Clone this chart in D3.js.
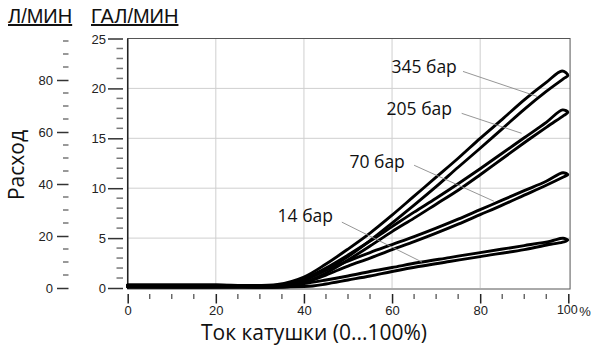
<!DOCTYPE html>
<html>
<head>
<meta charset="utf-8">
<script src="https://cdn.jsdelivr.net/npm/d3@7"></script>
<style>
  body { margin: 0; background: #fff; }
  svg { display: block; }
</style>
</head>
<body>
<svg id="chart"></svg>
<script>
// flow (gal/min) against coil current (%), each loop = rising branch then falling branch
const loop345Up = [[0,0.3],[20,0.3],[34,0.35],[40,1.1],[45,2.4],[50,3.9],[55,5.5],[60,7.3],[65,9.2],[70,11.1],[75,13.0],[80,15.0],[85,16.9],[90,18.85],[95,20.6],[98.6,21.75]];
const loop345Down = [[99.9,21.3],[99,21.0],[95,19.7],[90,17.9],[85,15.95],[80,14.0],[75,12.1],[70,10.15],[65,8.3],[60,6.5],[55,4.75],[50,3.15],[45,1.8],[40,0.7],[38,0.3],[20,0.12],[0,0.12]];
const loop205Up = [[0,0.28],[20,0.28],[36,0.3],[40,0.9],[45,2.0],[50,3.3],[55,4.7],[60,6.15],[65,7.6],[70,9.0],[75,10.45],[80,11.95],[85,13.5],[90,15.05],[95,16.6],[98.7,17.85]];
const loop205Down = [[99.9,17.6],[99,17.3],[95,16.1],[90,14.55],[85,12.95],[80,11.35],[75,9.8],[70,8.4],[65,7.0],[60,5.65],[55,4.2],[50,2.8],[45,1.5],[40,0.5],[38,0.2],[20,0.1],[0,0.1]];
const loop70Up = [[0,0.28],[20,0.28],[36,0.3],[40,0.9],[45,1.8],[50,2.7],[55,3.55],[60,4.35],[65,5.15],[70,6.0],[75,6.9],[80,7.85],[85,8.8],[90,9.75],[95,10.7],[98.8,11.55]];
const loop70Down = [[99.9,11.35],[99,11.15],[95,10.3],[90,9.3],[85,8.3],[80,7.35],[75,6.4],[70,5.5],[65,4.65],[60,3.85],[55,3.0],[50,2.2],[45,1.3],[40,0.5],[38,0.2],[20,0.1],[0,0.1]];
const loop14Up = [[0,0.25],[20,0.25],[35,0.25],[40,0.45],[45,0.8],[50,1.2],[55,1.65],[60,2.05],[66,2.55],[73,3.05],[80,3.55],[90,4.25],[96,4.7],[98.8,4.98]];
const loop14Down = [[99.9,4.8],[99,4.62],[96,4.38],[90,3.85],[80,3.15],[73,2.65],[66,2.15],[60,1.65],[55,1.2],[50,0.8],[45,0.4],[42,0.2],[35,0.12],[0,0.12]];

const pressureLabels = ["345 бар", "205 бар", "70 бар", "14 бар"];
const xTicks = [0, 20, 40, 60, 80, 100];
const galTicks = [0, 5, 10, 15, 20, 25];
const litreTicks = [0, 20, 40, 60, 80];

const svgWidth = 593, svgHeight = 347;

const svg = d3.select("#chart")
  .attr("width", svgWidth)
  .attr("height", svgHeight);

const x = d3.scaleLinear().domain([0, 100]).range([127.7, 568.3]);
const y = d3.scaleLinear().domain([0, 25]).range([288, 38.5]);
const yL = d3.scaleLinear().domain([0, 80]).range([288, 80]);

// grid
const grid = svg.append("g");
grid.selectAll(".vg").data([20, 40, 60, 80]).enter().append("line")
  .attr("x1", d => x(d)).attr("x2", d => x(d))
  .attr("y1", y(25)).attr("y2", y(0))
  .attr("stroke", "#cfcfcf").attr("stroke-width", 1);
grid.selectAll(".hg").data([5, 10, 15, 20]).enter().append("line")
  .attr("x1", x(0)).attr("x2", x(100.4))
  .attr("y1", d => y(d)).attr("y2", d => y(d))
  .attr("stroke", "#cfcfcf").attr("stroke-width", 1);

// frame
svg.append("rect")
  .attr("x", x(0)).attr("y", y(25))
  .attr("width", x(100.4) - x(0)).attr("height", y(0) - y(25) + 1)
  .attr("fill", "none").attr("stroke", "#555").attr("stroke-width", 1);
svg.append("line")
  .attr("x1", x(0)).attr("x2", x(0)).attr("y1", y(25)).attr("y2", y(0) + 1)
  .attr("stroke", "#222").attr("stroke-width", 1.5);

// gallon axis
const galAxis = svg.append("g").attr("transform", "translate(123,0)");
galAxis.call(d3.axisLeft(y).tickValues(galTicks).tickSize(15).tickPadding(2).tickSizeOuter(0))
  .call(g => g.select(".domain").remove());
galAxis.selectAll(".tick line").attr("stroke", "#333").attr("stroke-width", 1.5);
galAxis.selectAll(".tick text")
  .attr("font-family", "Liberation Sans, Arial, sans-serif")
  .attr("font-size", 13).attr("fill", "#222").attr("dy", "0.35em");
galAxis.selectAll(".minor").data(d3.range(1, 25).filter(d => d % 5 != 0)).enter().append("line")
  .attr("x1", -6.5).attr("x2", 0)
  .attr("y1", d => y(d)).attr("y2", d => y(d))
  .attr("stroke", "#777").attr("stroke-width", 1.5);

// litre axis
const litreAxis = svg.append("g").attr("transform", "translate(68.5,0)");
litreAxis.call(d3.axisLeft(yL).tickValues(litreTicks).tickSize(11.5).tickPadding(4).tickSizeOuter(0))
  .call(g => g.select(".domain").remove());
litreAxis.selectAll(".tick line").attr("stroke", "#333").attr("stroke-width", 1.5);
litreAxis.selectAll(".tick text")
  .attr("font-family", "Liberation Sans, Arial, sans-serif")
  .attr("font-size", 13).attr("fill", "#222").attr("dy", "0.35em");
litreAxis.selectAll(".minor").data(d3.range(5, 100, 5).filter(d => d % 20 != 0)).enter().append("line")
  .attr("x1", -5.5).attr("x2", 0)
  .attr("y1", d => yL(d)).attr("y2", d => yL(d))
  .attr("stroke", "#777").attr("stroke-width", 1.5);

// bottom axis
const xAxis = svg.append("g").attr("transform", "translate(0,294)");
xAxis.call(d3.axisBottom(x).tickValues(xTicks).tickSize(9.5).tickPadding(2).tickSizeOuter(0)
    .tickFormat(d => d))
  .call(g => g.select(".domain").remove());
xAxis.selectAll(".tick line").attr("stroke", "#222").attr("stroke-width", 1.5);
xAxis.selectAll(".tick text")
  .attr("font-family", "Liberation Sans, Arial, sans-serif")
  .attr("font-size", d => d == 100 ? 12.5 : 13).attr("fill", "#222")
  .attr("dx", d => d == 100 ? -1.5 : 0);
xAxis.selectAll(".minor").data(d3.range(5, 100, 5).filter(d => d % 20 != 0)).enter().append("line")
  .attr("x1", d => x(d)).attr("x2", d => x(d))
  .attr("y1", 0).attr("y2", 5)
  .attr("stroke", "#555").attr("stroke-width", 1.3);
xAxis.append("text")
  .attr("x", x(100) + 11).attr("y", 21.5)
  .attr("text-anchor", "start")
  .attr("font-family", "Liberation Sans, Arial, sans-serif")
  .attr("font-size", 13).attr("fill", "#222")
  .text("%");

// titles
const titleFont = "Open Sans, Noto Sans, sans-serif";
svg.append("text")
  .attr("x", 314).attr("y", 340)
  .attr("text-anchor", "middle")
  .attr("font-family", titleFont).attr("font-size", 21).attr("fill", "#111")
  .text("Ток катушки (0...100%)");
svg.append("text")
  .attr("transform", "translate(24,165) rotate(-90)")
  .attr("text-anchor", "middle")
  .attr("font-family", titleFont).attr("font-size", 21).attr("fill", "#111")
  .text("Расход");

const unitFont = "Liberation Sans, Arial, sans-serif";
svg.append("text")
  .attr("x", 8).attr("y", 23)
  .attr("font-family", unitFont).attr("font-size", 20).attr("fill", "#111")
  .attr("text-decoration", "underline")
  .text("Л/МИН");
svg.append("text")
  .attr("x", 91).attr("y", 23)
  .attr("font-family", unitFont).attr("font-size", 20).attr("fill", "#111")
  .attr("text-decoration", "underline")
  .text("ГАЛ/МИН");

// loops
const line = d3.line()
  .x(d => x(d[0]))
  .y(d => y(d[1]))
  .curve(d3.curveCatmullRom.alpha(0.5));

const loops = [
  loop14Up.concat(loop14Down),
  loop70Up.concat(loop70Down),
  loop205Up.concat(loop205Down),
  loop345Up.concat(loop345Down)
];
svg.append("g").selectAll("path")
  .data(loops).enter().append("path")
  .attr("d", line)
  .attr("fill", "none")
  .attr("stroke", "#000")
  .attr("stroke-width", 2.9)
  .attr("stroke-linejoin", "round")
  .attr("stroke-linecap", "round");

// labels with leader lines (text end, leader start, leader end in data units)
const annot = [
  { t: [74.7, 21.5], a: [76.1, 21.7], b: [92.9, 19.2] },
  { t: [73.6, 17.3], a: [75.8, 17.5], b: [89.4, 15.5] },
  { t: [62.9, 12.0], a: [65.0, 12.3], b: [83.1, 8.7] },
  { t: [46.6, 6.6],  a: [48.6, 6.6],  b: [66.8, 2.6] }
];
const ann = svg.append("g");
ann.selectAll("line").data(annot).enter().append("line")
  .attr("x1", d => x(d.a[0])).attr("y1", d => y(d.a[1]))
  .attr("x2", d => x(d.b[0])).attr("y2", d => y(d.b[1]))
  .attr("stroke", "#8a8a8a").attr("stroke-width", 0.9);
ann.selectAll("text").data(annot).enter().append("text")
  .attr("x", d => x(d.t[0])).attr("y", d => y(d.t[1]))
  .attr("text-anchor", "end")
  .attr("font-family", titleFont).attr("font-size", 17.5).attr("fill", "#111")
  .text((d, i) => pressureLabels[i]);
</script>
</body>
</html>
